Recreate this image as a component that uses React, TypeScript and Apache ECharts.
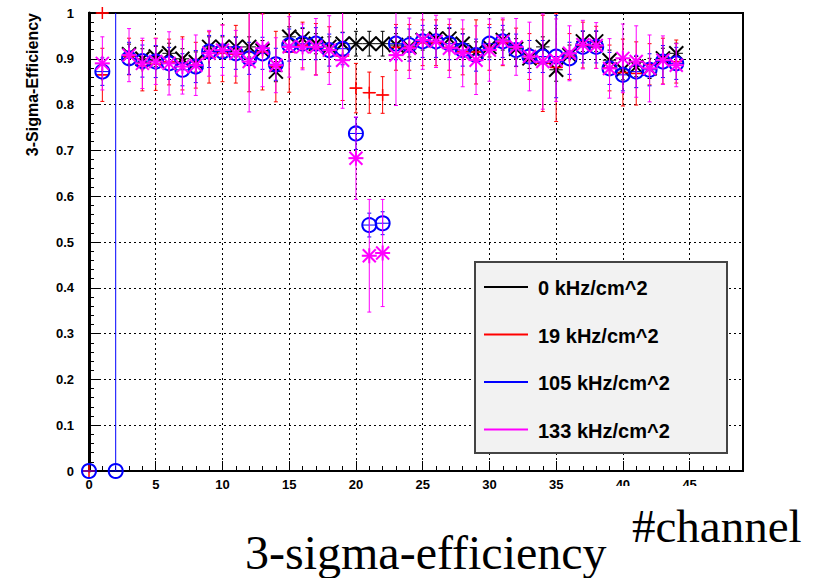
import React, { useEffect, useRef } from "react";
import * as echarts from "echarts";

// ---- data ----
const channels = [3, 4, 5, 6, 7, 8, 9, 10, 11, 12, 13, 14, 15, 16, 17, 18, 19, 20, 21, 22, 23, 24, 25, 26, 27, 28, 29, 30, 31, 32, 33, 34, 35, 36, 37, 38, 39, 40, 41, 42, 43, 44];

const seriesNames = ["0 kHz/cm^2", "19 kHz/cm^2", "105 kHz/cm^2", "133 kHz/cm^2"];

const blackLeadCh: number[] = [];
const blackLead: number[] = [];
const blackLeadErr: number[] = [];
const black = [0.910, 0.900, 0.905, 0.912, 0.900, 0.893, 0.926, 0.926, 0.926, 0.926, 0.918, 0.872, 0.948, 0.944, 0.933, 0.926, 0.933, 0.933, 0.933, 0.933, 0.930, 0.926, 0.941, 0.944, 0.944, 0.933, 0.915, 0.926, 0.941, 0.922, 0.901, 0.926, 0.876, 0.908, 0.938, 0.938, 0.897, 0.876, 0.883, 0.879, 0.901, 0.912];
const blackErr = [0.022, 0.022, 0.022, 0.022, 0.022, 0.022, 0.022, 0.022, 0.022, 0.022, 0.022, 0.022, 0.022, 0.022, 0.022, 0.022, 0.025, 0.027, 0.027, 0.027, 0.025, 0.022, 0.022, 0.022, 0.022, 0.022, 0.022, 0.022, 0.022, 0.022, 0.022, 0.022, 0.025, 0.022, 0.022, 0.022, 0.022, 0.022, 0.022, 0.022, 0.022, 0.022];

const redLeadCh = [0, 1, 1];
const redLead = [0, 0.865, 1.0];
const redLeadErr = [0, 0.058, 0];
const red = [0.905, 0.885, 0.888, 0.893, 0.890, 0.886, 0.903, 0.912, 0.910, 0.914, 0.915, 0.883, 0.915, 0.930, 0.921, 0.920, 0.906, 0.836, 0.826, 0.821, 0.925, 0.925, 0.935, 0.935, 0.925, 0.915, 0.915, 0.925, 0.935, 0.925, 0.905, 0.890, 0.881, 0.905, 0.930, 0.925, 0.880, 0.870, 0.868, 0.888, 0.895, 0.894];
const redErr = [0.040, 0.055, 0.057, 0.050, 0.058, 0.050, 0.056, 0.062, 0.063, 0.086, 0.083, 0.077, 0.088, 0.050, 0.056, 0.050, 0.097, 0.054, 0.045, 0.040, 0.050, 0.050, 0.050, 0.050, 0.050, 0.050, 0.070, 0.050, 0.050, 0.042, 0.050, 0.105, 0.118, 0.050, 0.050, 0.046, 0.050, 0.073, 0.069, 0.045, 0.050, 0.047];

const blueLeadCh = [0, 1, 2];
const blueLead = [0, 0.872, 0];
const blueLeadErr = [0, 0.03, 1.0];
const blue = [0.901, 0.895, 0.894, 0.890, 0.876, 0.883, 0.916, 0.916, 0.912, 0.901, 0.912, 0.888, 0.930, 0.933, 0.933, 0.919, 0.922, 0.737, 0.537, 0.541, 0.933, 0.930, 0.938, 0.938, 0.933, 0.919, 0.908, 0.933, 0.938, 0.919, 0.905, 0.905, 0.905, 0.901, 0.926, 0.926, 0.879, 0.865, 0.872, 0.876, 0.894, 0.890];
const blueErr = [0.035, 0.035, 0.035, 0.035, 0.035, 0.035, 0.035, 0.035, 0.035, 0.035, 0.035, 0.035, 0.035, 0.035, 0.035, 0.035, 0.035, 0.035, 0.026, 0.025, 0.035, 0.035, 0.035, 0.035, 0.035, 0.035, 0.035, 0.035, 0.035, 0.035, 0.035, 0.035, 0.090, 0.035, 0.035, 0.035, 0.035, 0.035, 0.035, 0.035, 0.035, 0.035];

const magentaLeadCh = [1];
const magentaLead = [0.89];
const magentaLeadErr = [0.058];
const magenta = [0.908, 0.890, 0.894, 0.890, 0.883, 0.886, 0.912, 0.919, 0.912, 0.894, 0.923, 0.886, 0.926, 0.926, 0.926, 0.919, 0.897, 0.683, 0.470, 0.476, 0.908, 0.923, 0.941, 0.938, 0.923, 0.912, 0.897, 0.919, 0.938, 0.926, 0.905, 0.894, 0.897, 0.912, 0.931, 0.929, 0.879, 0.901, 0.894, 0.879, 0.897, 0.886];
const magentaErr = [0.058, 0.055, 0.050, 0.069, 0.060, 0.066, 0.050, 0.055, 0.050, 0.110, 0.084, 0.060, 0.066, 0.050, 0.062, 0.075, 0.105, 0.090, 0.123, 0.117, 0.110, 0.066, 0.064, 0.057, 0.064, 0.073, 0.075, 0.068, 0.051, 0.062, 0.075, 0.104, 0.090, 0.060, 0.053, 0.050, 0.065, 0.075, 0.078, 0.073, 0.053, 0.047];

// ---- helpers ----
function build(leadCh: number[], lead: number[], leadErr: number[], vals: number[], errs: number[]) {
  const out: number[][] = [];
  leadCh.forEach((c, i) => out.push([c, lead[i], leadErr[i]]));
  channels.forEach((c, i) => out.push([c, vals[i], errs[i]]));
  return out;
}

const seriesData = [
  build(blackLeadCh, blackLead, blackLeadErr, black, blackErr),
  build(redLeadCh, redLead, redLeadErr, red, redErr),
  build(blueLeadCh, blueLead, blueLeadErr, blue, blueErr),
  build(magentaLeadCh, magentaLead, magentaLeadErr, magenta, magentaErr),
];
const colors = ["#000000", "#ff0000", "#0000ff", "#ff00ff"];
const markers = ["x", "plus", "circle", "star"];

function makeRender(color: string, marker: string) {
  return (params: any, api: any) => {
    const x = api.value(0);
    const y = api.value(1);
    const e = api.value(2);
    const p = api.coord([x, y]);
    const pl = api.coord([x - 0.5, y]);
    const pr = api.coord([x + 0.5, y]);
    const ls = { stroke: color, lineWidth: 1, fill: null };
    const ch: any[] = [];
    ch.push({ type: "line", shape: { x1: pl[0], y1: p[1], x2: pr[0], y2: p[1] }, style: ls });
    if (e > 0) {
      const pt = api.coord([x, Math.min(1, y + e)]);
      const pb = api.coord([x, Math.max(0, y - e)]);
      ch.push({ type: "line", shape: { x1: p[0], y1: pt[1], x2: p[0], y2: pb[1] }, style: ls });
      if (y + e < 1) ch.push({ type: "line", shape: { x1: p[0] - 2, y1: pt[1], x2: p[0] + 2, y2: pt[1] }, style: ls });
      if (y - e > 0) ch.push({ type: "line", shape: { x1: p[0] - 2, y1: pb[1], x2: p[0] + 2, y2: pb[1] }, style: ls });
    }
    const cx = p[0], cy = p[1];
    const ms = { stroke: color, lineWidth: 2, fill: null };
    if (marker === "x") {
      ch.push({ type: "line", shape: { x1: cx - 7, y1: cy - 7, x2: cx + 7, y2: cy + 7 }, style: ms });
      ch.push({ type: "line", shape: { x1: cx - 7, y1: cy + 7, x2: cx + 7, y2: cy - 7 }, style: ms });
    } else if (marker === "plus") {
      ch.push({ type: "line", shape: { x1: cx - 6, y1: cy, x2: cx + 6, y2: cy }, style: { ...ms, lineWidth: 1.5 } });
      ch.push({ type: "line", shape: { x1: cx, y1: cy - 6, x2: cx, y2: cy + 6 }, style: { ...ms, lineWidth: 1.5 } });
    } else if (marker === "circle") {
      ch.push({ type: "circle", shape: { cx, cy, r: 7 }, style: { stroke: color, lineWidth: 2, fill: "none" } });
    } else {
      ch.push({ type: "line", shape: { x1: cx - 6.5, y1: cy - 6.5, x2: cx + 6.5, y2: cy + 6.5 }, style: ms });
      ch.push({ type: "line", shape: { x1: cx - 6.5, y1: cy + 6.5, x2: cx + 6.5, y2: cy - 6.5 }, style: ms });
      ch.push({ type: "line", shape: { x1: cx - 7.5, y1: cy, x2: cx + 7.5, y2: cy }, style: ms });
      ch.push({ type: "line", shape: { x1: cx, y1: cy - 7.5, x2: cx, y2: cy + 7.5 }, style: ms });
    }
    return { type: "group", children: ch };
  };
}

const tickFont = { color: "#000", fontFamily: "Liberation Sans", fontWeight: "bold" as const, fontSize: 13 };
const gridLine = { show: true, lineStyle: { color: "#000", type: [2, 3] as any, width: 1 } };

const legendTop = [287, 334.5, 382, 429.5];

const option: any = {
  animation: false,
  backgroundColor: "#ffffff",
  grid: { left: 89, top: 13, right: 80, bottom: 107, show: true, borderColor: "#000", borderWidth: 2, backgroundColor: "transparent" },
  xAxis: {
    type: "value", min: 0, max: 49, interval: 5,
    axisLine: { show: true, onZero: false, lineStyle: { color: "#000", width: 2 } },
    axisTick: { show: true, inside: true, length: 10, lineStyle: { color: "#000" } },
    minorTick: { show: true, splitNumber: 5, length: 5, lineStyle: { color: "#000" } },
    axisLabel: { ...tickFont, margin: 7, showMaxLabel: false },
    splitLine: gridLine,
  },
  yAxis: {
    type: "value", min: 0, max: 1, interval: 0.1,
    axisLine: { show: true, onZero: false, lineStyle: { color: "#000", width: 3 } },
    axisTick: { show: true, inside: true, length: 10, lineStyle: { color: "#000" } },
    minorTick: { show: true, splitNumber: 5, length: 5, lineStyle: { color: "#000" } },
    axisLabel: { ...tickFont, margin: 15 },
    splitLine: gridLine,
  },
  series: seriesData.map((d, i) => ({
    type: "custom",
    name: seriesNames[i],
    data: d,
    encode: { x: 0, y: 1 },
    renderItem: makeRender(colors[i], markers[i]),
    z: 3 + i,
    silent: true,
  })),
  graphic: [
    { type: "rect", z: 100, shape: { x: 475, y: 262, width: 252, height: 191 }, style: { fill: "#f2f2f2", stroke: "#444", lineWidth: 2 } },
    ...seriesNames.flatMap((n, i) => [
      { type: "line", z: 101, shape: { x1: 484, y1: legendTop[i], x2: 528, y2: legendTop[i] }, style: { stroke: colors[i], lineWidth: 2 } },
      { type: "text", z: 101, x: 538, y: legendTop[i] + 1, style: { text: n, fontFamily: "Liberation Sans", fontWeight: "bold", fontSize: 20, fill: "#000", align: "left", verticalAlign: "middle" } },
    ]),
    { type: "text", z: 101, x: 32, y: 13, rotation: Math.PI / 2, style: { text: "3-Sigma-Efficiency", fontFamily: "Liberation Sans", fontWeight: "bold", fontSize: 16, fill: "#000", align: "right", verticalAlign: "middle" } },
    { type: "rect", z: 100, shape: { x: 596, y: 486, width: 227, height: 92 }, style: { fill: "#ffffff" } },
    { type: "text", z: 102, x: 245, y: 552, style: { text: "3-sigma-efficiency", fontFamily: "Liberation Serif", fontSize: 48, fill: "#000", align: "left", verticalAlign: "middle" } },
    { type: "text", z: 102, x: 632, y: 526, style: { text: "#channel", fontFamily: "Liberation Serif", fontSize: 47, fill: "#000", align: "left", verticalAlign: "middle" } },
  ],
};

export default function App() {
  const ref = useRef<HTMLDivElement>(null);
  useEffect(() => {
    const chart = echarts.init(ref.current!, null, { renderer: "svg" });
    chart.setOption(option);
    return () => chart.dispose();
  }, []);
  return <div ref={ref} style={{ width: 823, height: 578, position: "absolute", left: 0, top: 0 }} />;
}
